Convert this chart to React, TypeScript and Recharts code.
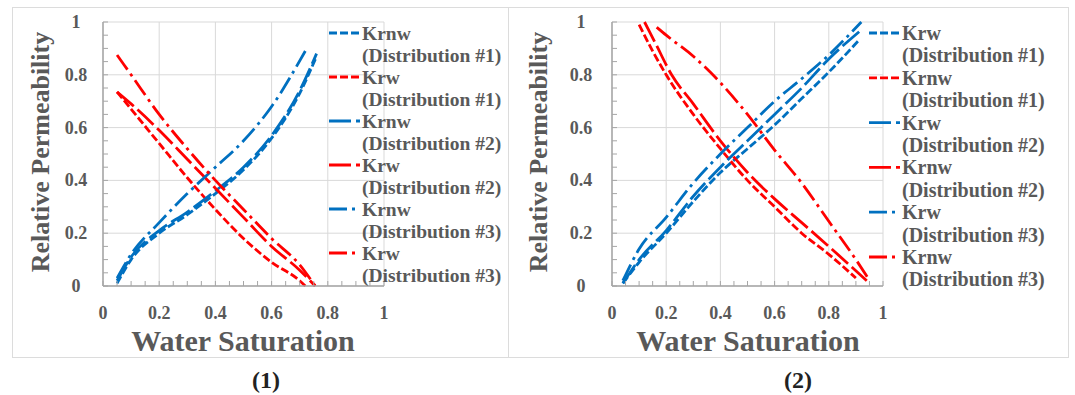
import React from 'react';
import { LineChart, Line, XAxis, YAxis, CartesianGrid } from 'recharts';

// ---------- Chart (1) data ----------
const c1_krnw1_x = [0.05, 0.1, 0.2, 0.3, 0.4, 0.5, 0.6, 0.7, 0.76];
const c1_krnw1_y = [0.01, 0.10, 0.20, 0.27, 0.35, 0.44, 0.56, 0.73, 0.87];
const c1_krw1_x = [0.05, 0.1, 0.2, 0.3, 0.4, 0.5, 0.6, 0.7, 0.72];
const c1_krw1_y = [0.735, 0.67, 0.54, 0.41, 0.29, 0.18, 0.09, 0.02, 0.0];
const c1_krnw2_x = [0.05, 0.1, 0.2, 0.3, 0.4, 0.5, 0.6, 0.7, 0.76];
const c1_krnw2_y = [0.02, 0.11, 0.21, 0.28, 0.36, 0.45, 0.57, 0.74, 0.88];
const c1_krw2_x = [0.05, 0.1, 0.2, 0.3, 0.4, 0.5, 0.6, 0.7, 0.755];
const c1_krw2_y = [0.735, 0.69, 0.59, 0.48, 0.37, 0.26, 0.15, 0.06, 0.0];
const c1_krnw3_x = [0.05, 0.1, 0.2, 0.3, 0.4, 0.5, 0.6, 0.72];
const c1_krnw3_y = [0.03, 0.12, 0.24, 0.35, 0.45, 0.55, 0.68, 0.89];
const c1_krw3_x = [0.05, 0.1, 0.2, 0.3, 0.4, 0.5, 0.6, 0.7, 0.755];
const c1_krw3_y = [0.875, 0.80, 0.65, 0.52, 0.40, 0.29, 0.18, 0.08, 0.0];

// ---------- Chart (2) data ----------
const c2_krw1_x = [0.04, 0.1, 0.2, 0.3, 0.4, 0.5, 0.6, 0.7, 0.8, 0.91];
const c2_krw1_y = [0.01, 0.09, 0.20, 0.32, 0.43, 0.52, 0.61, 0.71, 0.81, 0.93];
const c2_krnw1_x = [0.10, 0.15, 0.2, 0.3, 0.4, 0.5, 0.6, 0.7, 0.8, 0.9];
const c2_krnw1_y = [0.99, 0.89, 0.80, 0.65, 0.52, 0.40, 0.30, 0.20, 0.12, 0.03];
const c2_krw2_x = [0.04, 0.1, 0.2, 0.3, 0.4, 0.5, 0.6, 0.7, 0.8, 0.92];
const c2_krw2_y = [0.01, 0.10, 0.21, 0.34, 0.45, 0.55, 0.65, 0.75, 0.86, 0.97];
const c2_krnw2_x = [0.12, 0.16, 0.22, 0.3, 0.4, 0.5, 0.6, 0.7, 0.8, 0.94];
const c2_krnw2_y = [1.0, 0.92, 0.80, 0.69, 0.55, 0.43, 0.33, 0.24, 0.15, 0.02];
const c2_krw3_x = [0.04, 0.1, 0.2, 0.3, 0.4, 0.5, 0.6, 0.7, 0.8, 0.92];
const c2_krw3_y = [0.02, 0.14, 0.26, 0.39, 0.50, 0.60, 0.70, 0.785, 0.875, 1.0];
const c2_krnw3_x = [0.165, 0.2, 0.3, 0.4, 0.5, 0.6, 0.7, 0.8, 0.9, 0.945];
const c2_krnw3_y = [0.98, 0.95, 0.87, 0.77, 0.65, 0.515, 0.39, 0.245, 0.10, 0.03];

// ---------- Axes ----------
const axisTicks = [0, 0.05, 0.1, 0.15, 0.2, 0.25, 0.3, 0.35, 0.4, 0.45, 0.5, 0.55, 0.6, 0.65, 0.7, 0.75, 0.8, 0.85, 0.9, 0.95, 1];
const majorTicks = [0, 0.2, 0.4, 0.6, 0.8, 1];
const majorLabels = ['0', '0.2', '0.4', '0.6', '0.8', '1'];

const xTitle = 'Water Saturation';
const yTitle = 'Relative Permeability';

const BLUE = '#0070C0';
const RED = '#FF0000';
const TXT = '#595959';
const FONT = '"Liberation Serif", "Times New Roman", serif';

const DASH1 = '8 3';
const DASH2 = '22 5';
const DASH3 = '18 5 3 5';

const zip = (xs: number[], ys: number[]) => xs.map((x, i) => ({ x, y: ys[i] }));

type Series = { name: string; sub: string; color: string; dash: string; data: { x: number; y: number }[] };

const series1: Series[] = [
  { name: 'Krnw', sub: '(Distribution #1)', color: BLUE, dash: DASH1, data: zip(c1_krnw1_x, c1_krnw1_y) },
  { name: 'Krw', sub: '(Distribution #1)', color: RED, dash: DASH1, data: zip(c1_krw1_x, c1_krw1_y) },
  { name: 'Krnw', sub: '(Distribution #2)', color: BLUE, dash: DASH2, data: zip(c1_krnw2_x, c1_krnw2_y) },
  { name: 'Krw', sub: '(Distribution #2)', color: RED, dash: DASH2, data: zip(c1_krw2_x, c1_krw2_y) },
  { name: 'Krnw', sub: '(Distribution #3)', color: BLUE, dash: DASH3, data: zip(c1_krnw3_x, c1_krnw3_y) },
  { name: 'Krw', sub: '(Distribution #3)', color: RED, dash: DASH3, data: zip(c1_krw3_x, c1_krw3_y) },
];

const series2: Series[] = [
  { name: 'Krw', sub: '(Distribution #1)', color: BLUE, dash: DASH1, data: zip(c2_krw1_x, c2_krw1_y) },
  { name: 'Krnw', sub: '(Distribution #1)', color: RED, dash: DASH1, data: zip(c2_krnw1_x, c2_krnw1_y) },
  { name: 'Krw', sub: '(Distribution #2)', color: BLUE, dash: DASH2, data: zip(c2_krw2_x, c2_krw2_y) },
  { name: 'Krnw', sub: '(Distribution #2)', color: RED, dash: DASH2, data: zip(c2_krnw2_x, c2_krnw2_y) },
  { name: 'Krw', sub: '(Distribution #3)', color: BLUE, dash: DASH3, data: zip(c2_krw3_x, c2_krw3_y) },
  { name: 'Krnw', sub: '(Distribution #3)', color: RED, dash: DASH3, data: zip(c2_krnw3_x, c2_krnw3_y) },
];

const labelFor = (v: number) => {
  const i = majorTicks.findIndex((m) => Math.abs(m - v) < 1e-6);
  return i >= 0 ? majorLabels[i] : '';
};

const TickText = (props: any) => {
  const { x, y, payload } = props;
  const t = labelFor(payload.value);
  if (!t) return <g />;
  return (
    <text x={x} y={y} textAnchor="middle" dominantBaseline="central" fill={TXT}
      style={{ fontFamily: FONT, fontWeight: 700, fontSize: 18 }}>{t}</text>
  );
};

function Panel({ series, left, rightMargin, yTickMargin }: { series: Series[]; left: number; rightMargin: number; yTickMargin: number }) {
  return (
    <div style={{ position: 'absolute', left, top: 0 }}>
      <LineChart width={400} height={330} margin={{ top: 22, right: rightMargin, bottom: 14, left: 43 }}>
        <CartesianGrid stroke="#D9D9D9" strokeWidth={1} verticalValues={majorTicks} horizontalValues={majorTicks} />
        <XAxis type="number" dataKey="x" domain={[0, 1]} ticks={axisTicks} interval={0} height={30}
          allowDuplicatedCategory={false}
          axisLine={{ stroke: '#A6A6A6', strokeWidth: 1.5 }} tickLine={{ stroke: '#A6A6A6' }}
          tickSize={-5} tickMargin={32} tick={<TickText />} />
        <YAxis type="number" domain={[0, 1]} ticks={axisTicks} interval={0} width={60}
          axisLine={{ stroke: '#A6A6A6', strokeWidth: 1.5 }} tickLine={{ stroke: '#A6A6A6' }}
          tickSize={-5} tickMargin={yTickMargin} tick={<TickText />} />
        {series.map((s, i) => (
          <Line key={i} data={s.data} dataKey="y" type="monotone" stroke={s.color} strokeWidth={2.8}
            strokeDasharray={s.dash} dot={false} activeDot={false} isAnimationActive={false} />
        ))}
      </LineChart>
    </div>
  );
}

function LegendBlock({ series, x, y, gap1, step, fontSize }: { series: Series[]; x: number; y: number; gap1: number; step: number; fontSize: number }) {
  return (
    <g>
      {series.map((s, i) => {
        const yy = y + i * step;
        return (
          <g key={i}>
            <line x1={x} x2={x + 31} y1={yy} y2={yy} stroke={s.color} strokeWidth={2.8} strokeDasharray={s.dash} />
            <text x={x + 33} y={yy} dominantBaseline="central" fill={TXT}
              style={{ fontFamily: FONT, fontWeight: 700, fontSize }}>{s.name}</text>
            <text x={x + 33} y={yy + gap1} dominantBaseline="central" fill={TXT}
              style={{ fontFamily: FONT, fontWeight: 700, fontSize }}>{s.sub}</text>
          </g>
        );
      })}
    </g>
  );
}

export default function App() {
  return (
    <div style={{ position: 'absolute', left: 0, top: 0, width: 1075, height: 395, background: '#fff', overflow: 'hidden' }}>
      <div style={{ position: 'absolute', left: 12, top: 7, width: 1055, height: 349, border: '1.5px solid #DCDCDC' }} />
      <div style={{ position: 'absolute', left: 508, top: 7, width: 0, height: 351, borderLeft: '1.5px solid #DCDCDC' }} />
      <Panel series={series1} left={0} rightMargin={16} yTickMargin={32} />
      <Panel series={series2} left={509} rightMargin={26} yTickMargin={36} />
      <svg width={1075} height={395} style={{ position: 'absolute', left: 0, top: 0, pointerEvents: 'none' }}>
        <text x={40} y={152} transform="rotate(-90 40 152)" textAnchor="middle" dominantBaseline="central" fill={TXT}
          style={{ fontFamily: FONT, fontWeight: 700, fontSize: 26 }}>{yTitle}</text>
        <text x={538} y={152} transform="rotate(-90 538 152)" textAnchor="middle" dominantBaseline="central" fill={TXT}
          style={{ fontFamily: FONT, fontWeight: 700, fontSize: 26 }}>{yTitle}</text>
        <text x={243} y={340} textAnchor="middle" dominantBaseline="central" fill={TXT}
          style={{ fontFamily: FONT, fontWeight: 700, fontSize: 30 }}>{xTitle}</text>
        <text x={748} y={340} textAnchor="middle" dominantBaseline="central" fill={TXT}
          style={{ fontFamily: FONT, fontWeight: 700, fontSize: 30 }}>{xTitle}</text>
        <text x={266} y={380} textAnchor="middle" dominantBaseline="central" fill="#222"
          style={{ fontFamily: FONT, fontWeight: 700, fontSize: 24 }}>(1)</text>
        <text x={798} y={380} textAnchor="middle" dominantBaseline="central" fill="#222"
          style={{ fontFamily: FONT, fontWeight: 700, fontSize: 24 }}>(2)</text>
        <LegendBlock series={series1} x={329} y={33} gap1={22} step={44} fontSize={19.5} />
        <LegendBlock series={series2} x={869} y={33} gap1={22.4} step={44.8} fontSize={20} />
      </svg>
    </div>
  );
}
